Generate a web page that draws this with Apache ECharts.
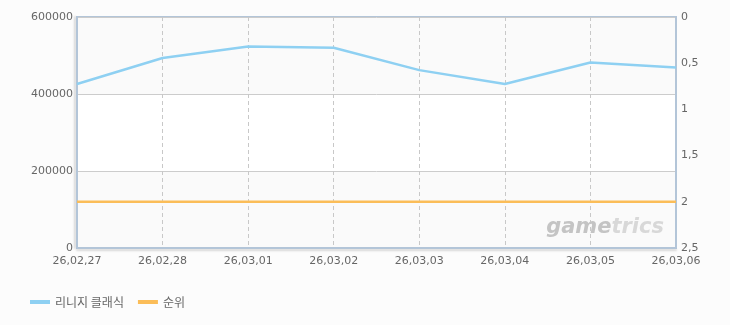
<!DOCTYPE html>
<html><head><meta charset="utf-8">
<script src="https://cdn.jsdelivr.net/npm/echarts@6/dist/echarts.min.js"></script>
<style>html,body{margin:0;padding:0;background:#fcfcfc;}#c{width:730px;height:325px;}</style>
</head><body><div id="c"></div>
<script>
var categories = ['26,02,27','26,02,28','26,03,01','26,03,02','26,03,03','26,03,04','26,03,05','26,03,06'];
var seriesNames = ['리니지 클래식','순위'];
var usersValues = [426000, 493500, 523500, 520000, 462000, 426000, 482000, 469000];
var rankValues = [2, 2, 2, 2, 2, 2, 2, 2];
var leftTicks = [0, 200000, 400000, 600000];
var rightTicks = ['0','0,5','1','1,5','2','2,5'];

var chart = echarts.init(document.getElementById('c'), null, {renderer:'canvas'});
var font = 'DejaVu Sans';
var axisColor = '#b3c5d8';
chart.setOption({
  backgroundColor: '#fcfcfc',
  animation: false,
  grid: {left: 77, right: 54, top: 17, bottom: 77, show: true, borderColor: axisColor, borderWidth: 2, backgroundColor: 'transparent'},
  legend: {
    left: 25, bottom: 12, itemWidth: 20, itemHeight: 4, icon: 'rect', itemGap: 14,
    textStyle: {color: '#666', fontSize: 12, fontFamily: 'Noto Sans CJK KR'},
    data: seriesNames
  },
  xAxis: {
    type: 'category', data: categories, boundaryGap: false,
    axisLine: {lineStyle: {color: axisColor, width: 2, shadowColor: 'rgba(0,0,0,0.15)', shadowOffsetY: 2, shadowBlur: 2}},
    axisTick: {show: false},
    axisLabel: {color: '#666', fontSize: 11, fontFamily: font, margin: 8, interval: 0},
    splitLine: {show: true, lineStyle: {color: '#c8c8c8', type: [4,3], width: 1}}
  },
  yAxis: [{
    type: 'value', min: leftTicks[0], max: leftTicks[leftTicks.length-1], interval: leftTicks[1]-leftTicks[0],
    axisLine: {show: true, lineStyle: {color: axisColor, width: 2, shadowColor: 'rgba(0,0,0,0.15)', shadowOffsetX: -2, shadowBlur: 2}},
    axisTick: {show: false},
    axisLabel: {color: '#666', fontSize: 11, fontFamily: font, margin: 4,
      formatter: function(v){ return String(v); }},
    splitLine: {show: true, lineStyle: {color: '#cccccc', width: 1}},
    splitArea: {show: true, areaStyle: {color: ['#fafafa', '#ffffff']}}
  }, {
    type: 'value', min: 0, max: 2.5, interval: 0.5, inverse: true,
    axisLine: {show: true, lineStyle: {color: axisColor, width: 2}},
    axisTick: {show: false},
    axisLabel: {color: '#666', fontSize: 11, fontFamily: font, margin: 5,
      formatter: function(v){ return rightTicks[Math.round(v*2)]; }},
    splitLine: {show: false}
  }],
  graphic: [{
    type: 'text', right: 66, bottom: 87, z: 1,
    style: {
      text: '{a|game}{b|trics}',
      rich: {
        a: {fontSize: 21, fontStyle: 'italic', fontWeight: 'bold', fill: '#c4c4c4', fontFamily: 'DejaVu Sans'},
        b: {fontSize: 21, fontStyle: 'italic', fontWeight: 'bold', fill: '#d8d8d8', fontFamily: 'DejaVu Sans'}
      }
    }
  }],
  series: [{
    name: seriesNames[0], type: 'line', data: usersValues, yAxisIndex: 0,
    showSymbol: false, symbol: 'none', z: 3,
    lineStyle: {color: '#8ed0f2', width: 2.5}, itemStyle: {color: '#8ed0f2'}
  }, {
    name: seriesNames[1], type: 'line', data: rankValues, yAxisIndex: 1,
    showSymbol: false, symbol: 'none', z: 3,
    lineStyle: {color: '#fbbd58', width: 2.5}, itemStyle: {color: '#fbbd58'}
  }]
});
</script></body></html>
